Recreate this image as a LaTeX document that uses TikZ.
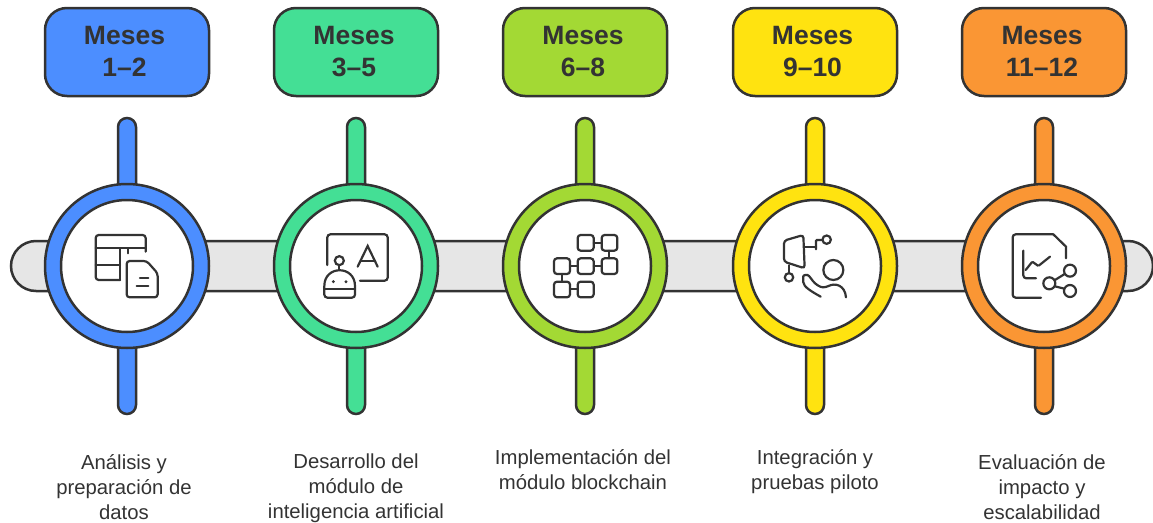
\documentclass[tikz,border=0pt]{standalone}
\usepackage{fontspec}
\setmainfont{Liberation Sans}
\definecolor{ink}{HTML}{333333}
\definecolor{track}{HTML}{E6E6E6}
\definecolor{stepblue}{HTML}{4C8EFF}
\definecolor{stepgreen}{HTML}{44DF95}
\definecolor{steplime}{HTML}{A3D934}
\definecolor{stepyellow}{HTML}{FFE310}
\definecolor{steporange}{HTML}{FA9634}
\begin{document}
\begin{tikzpicture}[x=1pt,y=-1pt]

    \tikzstyle{month} = [draw=ink, line width=2.5pt, rounded corners=22pt, minimum width=164pt,
        minimum height=88pt, inner sep=0pt]
    \tikzstyle{title} = [align=center, text=ink, inner sep=0pt,
        font=\fontsize{26.5}{32}\selectfont\bfseries]
    \tikzstyle{stem} = [draw=ink, line width=2.5pt, rounded corners=9pt, minimum width=18pt,
        minimum height=296pt, inner sep=0pt]
    \tikzstyle{ring} = [draw=ink, line width=2.5pt, circle, minimum size=164pt, inner sep=0pt]
    \tikzstyle{hole} = [draw=ink, line width=2.5pt, circle, fill=white, minimum size=132pt, inner sep=0pt]
    \tikzstyle{ann} = [align=center, text=ink, inner sep=0pt,
        font=\fontsize{20.3}{25}\selectfont]
    \tikzstyle{icon} = [draw=ink, line width=2.2pt, rounded corners=3pt, line cap=round, x=0.3333pt, y=-0.3333pt]
    \tikzstyle{dot} = [draw=ink, line width=2.2pt]

    \useasboundingbox (0,0) rectangle (1153,522);

    % Track
    \node[draw=ink, line width=2.5pt, fill=track, rounded corners=25pt, minimum width=1142pt,
        minimum height=50pt, inner sep=0pt] (track) at (582,266) {};

    % Stems
    \node[stem, fill=stepblue] (stemA) at (127,266) {};
    \node[stem, fill=stepgreen] (stemB) at (356,266) {};
    \node[stem, fill=steplime] (stemC) at (585,266) {};
    \node[stem, fill=stepyellow] (stemD) at (815,266) {};
    \node[stem, fill=steporange] (stemE) at (1044,266) {};

    % Month boxes
    \node[month, fill=stepblue] (monthA) at (127,52) {};
    \node[month, fill=stepgreen] (monthB) at (356,52) {};
    \node[month, fill=steplime] (monthC) at (585,52) {};
    \node[month, fill=stepyellow] (monthD) at (815,52) {};
    \node[month, fill=steporange] (monthE) at (1044,52) {};
    \node[title] (titleA) at (124.5,51) {Meses\\1--2};
    \node[title] (titleB) at (354,52) {Meses\\3--5};
    \node[title] (titleC) at (583,52) {Meses\\6--8};
    \node[title] (titleD) at (812.5,52) {Meses\\9--10};
    \node[title] (titleE) at (1042,51) {Meses\\11--12};

    % Rings
    \node[ring, fill=stepblue] (ringA) at (127,266) {};
    \node[ring, fill=stepgreen] (ringB) at (356,266) {};
    \node[ring, fill=steplime] (ringC) at (585,266) {};
    \node[ring, fill=stepyellow] (ringD) at (815,266) {};
    \node[ring, fill=steporange] (ringE) at (1044,266) {};
    \node[hole] (holeA) at (127,266) {};
    \node[hole] (holeB) at (356,266) {};
    \node[hole] (holeC) at (585,266) {};
    \node[hole] (holeD) at (815,266) {};
    \node[hole] (holeE) at (1044,266) {};

    % Table and sheet
    \begin{scope}[shift={(0,180)}, icon]
        \draw[icon] (437,215) -- (437,165) -- (287,165) -- (287,300) -- (360,300);
        \draw[icon] (287,205) -- (437,205);
        \draw[icon] (287,255) -- (360,255);
        \draw[icon] (360,205) -- (360,300);
        \draw[icon] (385,205) -- (385,220);
        \draw[icon] (380,243) -- (440,243) -- (473,280) -- (473,352) -- (380,352) -- cycle;
        \draw[icon] (420,293) -- (445,293);
        \draw[icon] (410,318) -- (445,318);
    \end{scope}

    % Robot and board
    \begin{scope}[shift={(270,190)}, icon]
        \draw[icon] (172,225) -- (172,133) -- (353,133) -- (353,272) -- (270,272);
        \draw[icon, rounded corners=0pt] (263,230) -- (293,168) -- (323,230);
        \draw[icon] (272,212) -- (315,212);
        \draw[dot] (208,212) circle[radius=4.5pt];
        \draw[icon] (208,226) -- (208,240);
        \draw[icon] (163,297) .. controls (163,225) and (255,225) .. (255,297) -- (255,323) -- (163,323) -- cycle;
        \draw[icon] (163,297) -- (255,297);
        \fill[ink] (190,275) circle[radius=1.6pt];
        \fill[ink] (228,275) circle[radius=1.6pt];
    \end{scope}

    % Block chain
    \begin{scope}[shift={(500,190)}, icon]
        \draw[icon] (233,135) rectangle (281,182);
        \draw[icon] (305,135) rectangle (352,182);
        \draw[icon] (162,205) rectangle (210,252);
        \draw[icon] (233,205) rectangle (281,252);
        \draw[icon] (305,205) rectangle (352,252);
        \draw[icon] (162,275) rectangle (210,322);
        \draw[icon] (233,275) rectangle (281,322);
        \draw[icon] (281,158) -- (305,158);
        \draw[icon] (328,182) -- (328,205);
        \draw[icon] (210,228) -- (233,228);
        \draw[icon] (281,228) -- (305,228);
        \draw[icon] (186,252) -- (186,275);
        \draw[icon] (210,298) -- (233,298);
    \end{scope}

    % Person and flow
    \begin{scope}[shift={(730,190)}, icon]
        \draw[icon] (162,152) -- (220,135) -- (224,235) -- (162,215) -- cycle;
        \draw[icon] (222,170) -- (258,170);
        \draw[icon, rounded corners=1pt] (258,178) -- (258,150) -- (277,150);
        \draw[dot] (290,149) circle[radius=4.2pt];
        \draw[icon] (177,226) -- (177,250);
        \draw[dot] (177,262) circle[radius=4.2pt];
        \draw[dot] (310,240) circle[radius=10pt];
        \draw[icon] (272,320) .. controls (245,305) and (220,290) .. (220,268)
            .. controls (220,255) and (232,252) .. (243,265)
            .. controls (255,282) and (270,292) .. (288,292)
            .. controls (315,278) and (345,285) .. (348,322);
    \end{scope}

    % Report and share
    \begin{scope}[shift={(955,190)}, icon]
        \draw[icon] (258,323) -- (173,323) -- (173,133) -- (295,133);
        \draw[icon, rounded corners=0pt] (295,133) -- (333,170) -- (333,205);
        \draw[icon] (205,182) -- (205,265) -- (243,265);
        \draw[icon, rounded corners=1pt] (212,240) -- (232,215) -- (250,228) -- (285,200);
        \draw[dot] (345,242) circle[radius=6pt];
        \draw[dot] (283,280) circle[radius=6pt];
        \draw[dot] (345,303) circle[radius=6pt];
        \draw[icon] (300,270) -- (329,252);
        \draw[icon] (300,289) -- (328,296);
    \end{scope}

    % Labels
    \node[ann] (textA) at (124,487) {Análisis y\\preparación de\\datos};
    \node[ann] (textB) at (356,488) {Desarrollo del\\módulo de\\inteligencia artificial};
    \node[ann] (textC) at (583,470) {Implementación del\\módulo blockchain};
    \node[ann] (textD) at (815,472) {Integración y\\pruebas piloto};
    \node[ann] (textE) at (1042,487) {Evaluación de\\impacto y\\escalabilidad};

\end{tikzpicture}
\end{document}
